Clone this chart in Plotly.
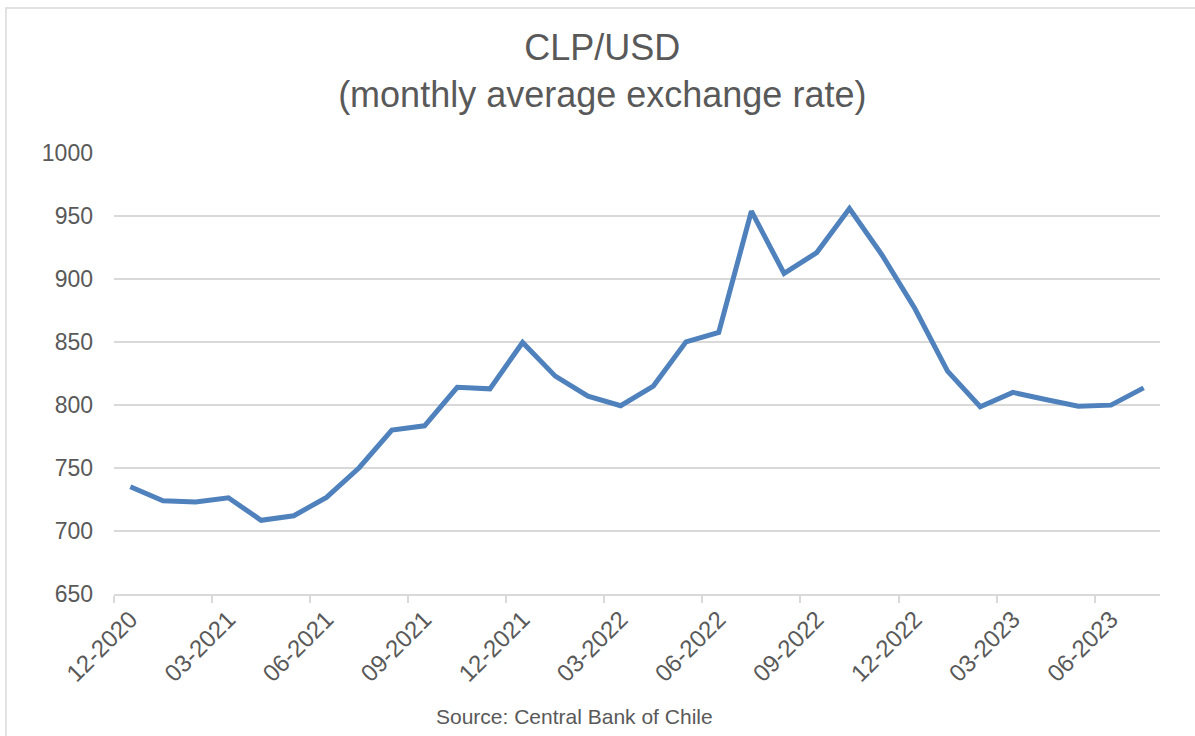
import plotly.graph_objects as go

months = ["12-2020", "01-2021", "02-2021", "03-2021", "04-2021", "05-2021", "06-2021",
          "07-2021", "08-2021", "09-2021", "10-2021", "11-2021", "12-2021", "01-2022",
          "02-2022", "03-2022", "04-2022", "05-2022", "06-2022", "07-2022", "08-2022",
          "09-2022", "10-2022", "11-2022", "12-2022", "01-2023", "02-2023", "03-2023",
          "04-2023", "05-2023", "06-2023", "07-2023"]
clp_usd = [735.1, 724.0, 723.0, 726.4, 708.5, 712.1, 726.7, 750.2, 780.1, 783.5,
           814.0, 812.8, 849.6, 822.9, 807.0, 799.4, 815.0, 850.1, 857.6, 953.8,
           904.4, 921.0, 955.9, 918.9, 876.6, 826.9, 798.6, 810.0, 804.4, 799.1,
           799.9, 813.6]
y_ticks = [650, 700, 750, 800, 850, 900, 950, 1000]

title_text = "CLP/USD<br>(monthly average exchange rate)"
source_text = "Source: Central Bank of Chile"

TEXT = "#595959"
GRID = "#d9d9d9"
LINE = "#4f81bd"
FONT = "Liberation Sans, Arial, sans-serif"

W, H = 1195, 736
ML, MR, MT, MB = 114, 35, 153, 142
PW, PH = W - ML - MR, H - MT - MB

idx = list(range(len(months)))
label_idx = idx[::3]

fig = go.Figure()
fig.add_trace(go.Scatter(
    x=idx, y=clp_usd, mode="lines",
    line=dict(color=LINE, width=5),
    hoverinfo="skip", showlegend=False,
))

fig.update_layout(
    width=W, height=H,
    margin=dict(l=ML, r=MR, t=MT, b=MB),
    paper_bgcolor="white", plot_bgcolor="white",
    font=dict(family=FONT, color=TEXT),
    title=dict(text=title_text, x=0.504, xref="container", xanchor="center",
               y=1 - 60 / H, yref="container", yanchor="top",
               font=dict(size=36, color=TEXT, family=FONT)),
    xaxis=dict(
        range=[-0.5, len(months) - 0.5],
        tickmode="array", tickvals=label_idx,
        ticktext=[months[i] for i in label_idx],
        tickangle=-45, ticks="", showgrid=False, zeroline=False,
        showline=True, linecolor=GRID, linewidth=1.5,
        tickfont=dict(size=24, color=TEXT, family=FONT),
        minor=dict(tickmode="array", tickvals=[i - 0.5 for i in label_idx],
                   ticks="outside", ticklen=7, tickcolor=GRID, tickwidth=1.5,
                   showgrid=False),
    ),
    yaxis=dict(
        range=[650, 1000], tickmode="array", tickvals=y_ticks,
        showgrid=True, gridcolor=GRID, gridwidth=1.5, zeroline=False,
        showline=False, ticks="",
        ticklabelstandoff=20,
        tickfont=dict(size=23, color=TEXT, family=FONT),
    ),
    annotations=[dict(
        text=source_text, xref="paper", yref="paper",
        x=(574 - ML) / PW, y=(594 - 716) / PH, xanchor="center", yanchor="middle",
        showarrow=False, font=dict(size=21, color=TEXT, family=FONT),
    )],
    shapes=[dict(
        type="rect", xref="paper", yref="paper",
        x0=(6 - ML) / PW, x1=(1200 - ML) / PW,
        y0=(594 - 745) / PH, y1=(594 - 8) / PH,
        line=dict(color=GRID, width=1.5), fillcolor="rgba(0,0,0,0)", layer="below",
    )],
)

fig.write_html("out.html")
